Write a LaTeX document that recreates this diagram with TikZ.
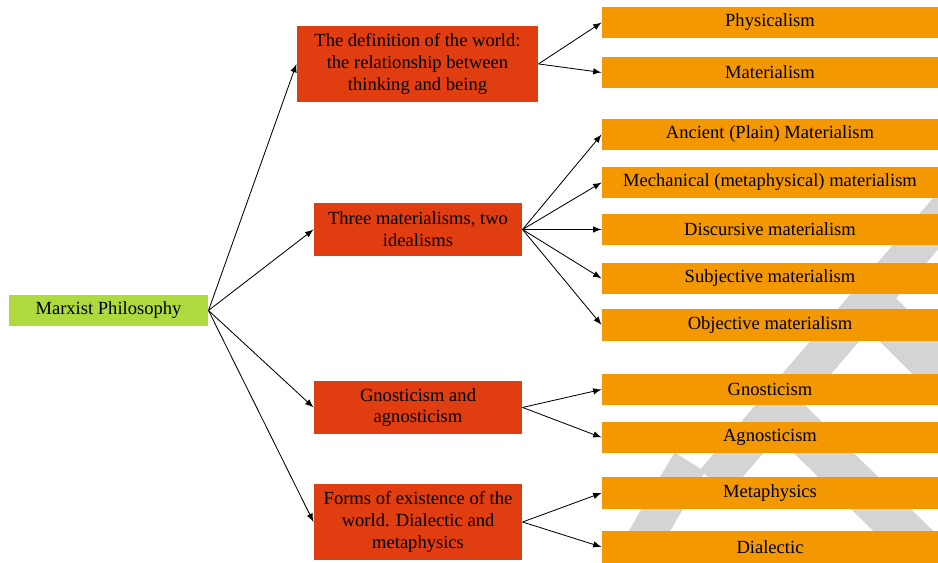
\documentclass[tikz,border=0pt]{standalone}
\usepackage{fontspec}
\setmainfont{Liberation Serif}
\usepackage{xcolor}
\usepackage{tikz}
\usetikzlibrary{arrows.meta,positioning,calc}

\definecolor{rootgreen}{HTML}{AEDA3F}
\definecolor{topicred}{HTML}{E03D10}
\definecolor{leaforange}{HTML}{F39800}
\definecolor{wmgray}{HTML}{D4D4D4}

\begin{document}
\begin{tikzpicture}[>=latex,font=\fontsize{8.8}{10.3}\selectfont,
   rt/.style={fill=rootgreen,minimum width=3.32cm,minimum height=0.52cm,inner sep=0pt},
   tp/.style={fill=topicred,align=center,minimum width=3.47cm,inner sep=0pt},
   lf/.style={fill=leaforange,minimum width=5.6cm,minimum height=0.52cm,inner sep=0pt},
   wm/.style={wmgray,line cap=butt}]
  \useasboundingbox (0,0) rectangle (15.633,9.383);
  % watermark in the background
  \begin{scope}
    \clip (0,0) rectangle (15.633,9.383);
    \draw[wm,line width=0.62cm] (16.0,6.13)--(11.9,1.35);
    \draw[wm,line width=0.7cm] (14.3,4.55)--(16.3,2.55);
    \draw[wm,line width=0.7cm] (13.17,2.38)--(15.67,-0.07);
    \draw[wm,line width=0.6cm] (11.5,1.68) .. controls (11.2,1.2) and (10.8,0.5) .. (10.42,-0.2);
  \end{scope}
  \node[rt] (mp) at (1.808,4.208) {Marxist Philosophy};
  \node[tp,minimum width=4.02cm,minimum height=1.27cm] (w) at (6.958,8.317)
    {The definition of the world:\\the relationship between\\thinking and being};
  \node[tp,minimum height=0.88cm] (m) at (6.967,5.558) {Three materialisms, two\\idealisms};
  \node[tp,minimum height=0.88cm] (g) at (6.967,2.592) {Gnosticism and\\agnosticism};
  \node[tp,minimum height=1.27cm] (f) at (6.967,0.683)
    {Forms of existence of the\\world. Dialectic and\\metaphysics};
  \node[lf] (w1) at (12.833,9.008) {Physicalism};
  \node[lf] (w2) at (12.833,8.175) {Materialism};
  \node[lf] (m1) at (12.833,7.142) {Ancient (Plain) Materialism};
  \node[lf] (m2) at (12.833,6.342) {Mechanical (metaphysical) materialism};
  \node[lf] (m3) at (12.833,5.558) {Discursive materialism};
  \node[lf] (m4) at (12.833,4.742) {Subjective materialism};
  \node[lf] (m5) at (12.833,3.967) {Objective materialism};
  \node[lf] (g1) at (12.833,2.892) {Gnosticism};
  \node[lf] (g2) at (12.833,2.092) {Agnosticism};
  \node[lf] (f1) at (12.833,1.167) {Metaphysics};
  \node[lf] (f2) at (12.833,0.267) {Dialectic};
  \foreach \x in {w,m,g,f} \draw[->] (mp.east)--(\x.west);
  \foreach \x in {w1,w2} \draw[->] (w.east)--(\x.west);
  \foreach \x in {m1,m2,m3,m4,m5} \draw[->] (m.east)--(\x.west);
  \foreach \x in {g1,g2} \draw[->] (g.east)--(\x.west);
  \foreach \x in {f1,f2} \draw[->] (f.east)--(\x.west);
\end{tikzpicture}
\end{document}
